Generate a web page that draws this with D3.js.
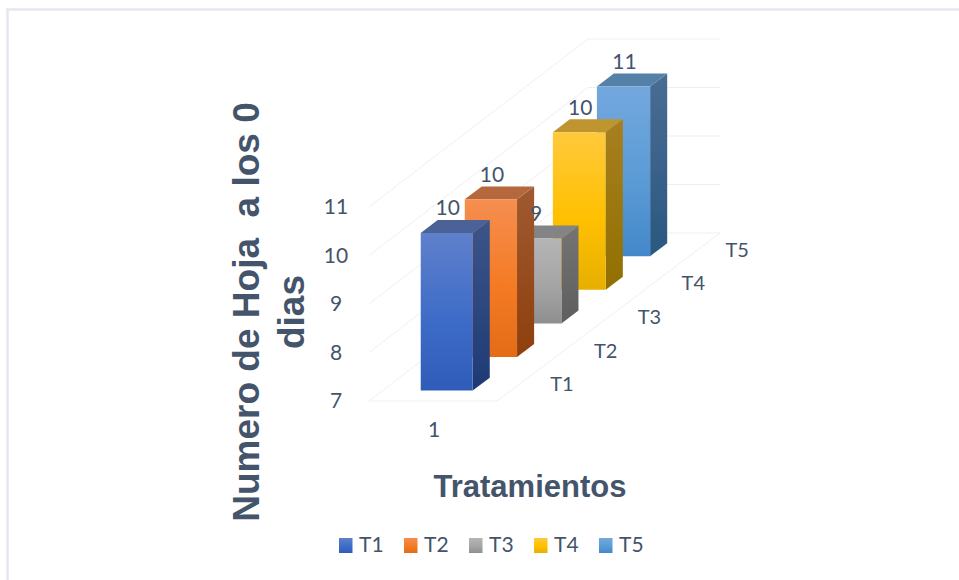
<!DOCTYPE html>
<html><head><meta charset="utf-8">
<script src="https://cdnjs.cloudflare.com/ajax/libs/d3/7.8.5/d3.min.js"></script>
<style>html,body{margin:0;background:#fff}svg{display:block}</style>
</head><body><svg id="c" width="959" height="580"></svg>
<script>
const categories = ["1"];
const seriesNames = ["T1","T2","T3","T4","T5"];
const seriesValues = [10.25,10.25,8.75,10.25,10.5];
const valueTicks = [7,8,9,10,11];
const frontColors = [["#6080cb","#2f5cb8"],["#f58e50","#e56c17"],["#b5b5b5","#8f8f8f"],["#ffc93c","#e6b000"],["#73a8de","#4488cb"]];
const mid = ["#3d6cc8","#f47b24","#a5a5a5","#ffc000","#5b9bd5"];
const sideColors = [["#3c5489","#1e3a75"],["#a05a30","#8e3f0d"],["#747474","#5e5e5e"],["#a77f20","#917000"],["#4a6c94","#2a5880"]];
const topColors = ["#4a6298","#b5683c","#848484","#bf9530","#5580a8"];
const ink = "#44546a";

const svg = d3.select("#c");
const defs = svg.append("defs");
const y = d3.scaleLinear().domain([7,11]).range([401,207]);
const depth = d3.scaleLinear().domain([0,5]);
const dxS = depth.copy().range([0,219]);
const dyS = depth.copy().range([0,-168]);
const wS = depth.copy().range([128,132]);
const px = (u,d)=>369+dxS(d)+u*wS(d);
const py = (v,d)=>y(v)+dyS(d);
const P = a=>a.map(p=>[px(p[0],p[1]),py(p[2],p[1])].join(",")).join(" ");

// frame
svg.append("path").attr("d","M7.5 580V9.5H959").attr("fill","none").attr("stroke","#e3e7f0").attr("stroke-width",2.5);

// grid
const g = svg.append("g").attr("fill","none").attr("stroke","#eeeff1").attr("stroke-width",1);
valueTicks.forEach(v=>{
  g.append("polyline").attr("points",P([[0,0,v],[0,5,v],[1,5,v]]));
});
g.append("polyline").attr("points",P([[0,0,7],[1,0,7],[1,5,7]]));

const T = (x,yy,t,o={})=>svg.append("text").attr("x",x).attr("y",yy).attr("dy","0.35em")
  .attr("text-anchor",o.a||"middle").attr("font-family",o.f||"Lato").attr("font-size",o.s||21)
  .attr("font-weight",o.w||400).attr("fill",ink).text(t);

// bars back-to-front
const barW = 0.405, d0 = 0.31, dd = 0.385;
seriesNames.map((s,i)=>i).reverse().forEach(i=>{
  const v = seriesValues[i];
  const d1 = i+d0, d2 = d1+dd;
  const uL = 0.5-barW/2, uR = 0.5+barW/2;
  const id = "f"+i, ids="s"+i;
  const gf = defs.append("linearGradient").attr("id",id).attr("x1",0).attr("x2",0).attr("y1",0).attr("y2",1);
  gf.append("stop").attr("offset",0).attr("stop-color",frontColors[i][0]);
  gf.append("stop").attr("offset",.55).attr("stop-color",mid[i]);
  gf.append("stop").attr("offset",1).attr("stop-color",frontColors[i][1]);
  const gs = defs.append("linearGradient").attr("id",ids).attr("x1",0).attr("x2",0).attr("y1",0).attr("y2",1);
  gs.append("stop").attr("offset",0).attr("stop-color",sideColors[i][0]);
  gs.append("stop").attr("offset",1).attr("stop-color",sideColors[i][1]);
  const b = svg.append("g");
  b.append("polygon").attr("points",P([[uR,d1,7],[uR,d2,7],[uR,d2,v],[uR,d1,v]])).attr("fill",`url(#${ids})`);
  b.append("polygon").attr("points",P([[uL,d1,v],[uR,d1,v],[uR,d2,v],[uL,d2,v]])).attr("fill",topColors[i]);
  b.append("polygon").attr("points",P([[uL,d1,7],[uR,d1,7],[uR,d1,v],[uL,d1,v]])).attr("fill",`url(#${id})`);
});
// data labels sit above the bars
seriesNames.forEach((s,i)=>{
  T(px(.5,i+d0)+1,py(seriesValues[i],i+d0)-25,d3.format(".0f")(seriesValues[i]));
});

// value axis
valueTicks.forEach(v=>T(336,y(v),d3.format("d")(v)));
// category axis
categories.forEach(c=>T(434,430,c));
// depth axis labels
seriesNames.forEach((s,i)=>T(px(0,i+.5)+171,py(7,i+.5),s,{s:20}));

// titles
T(530,486,"Tratamientos",{f:"Liberation Sans",w:700,s:31});
svg.append("g").attr("transform","translate(246,312) rotate(-90)").call(s=>{
  s.append("text").attr("text-anchor","middle").attr("dy","0.35em").attr("font-family","Liberation Sans")
   .attr("font-weight",700).attr("font-size",37).attr("fill",ink).attr("xml:space","preserve").text("Numero de Hoja  a los 0");
  s.append("text").attr("y",45).attr("text-anchor","middle").attr("dy","0.35em").attr("font-family","Liberation Sans")
   .attr("font-weight",700).attr("font-size",37).attr("fill",ink).text("dias");
});

// legend
const lx = d3.scalePoint().domain(seriesNames).range([339,599]);
seriesNames.forEach((s,i)=>{
  svg.append("rect").attr("x",lx(s)).attr("y",538).attr("width",13.5).attr("height",15).attr("fill",`url(#f${i})`);
  T(lx(s)+20,545,s,{a:"start"});
});
</script></body></html>
